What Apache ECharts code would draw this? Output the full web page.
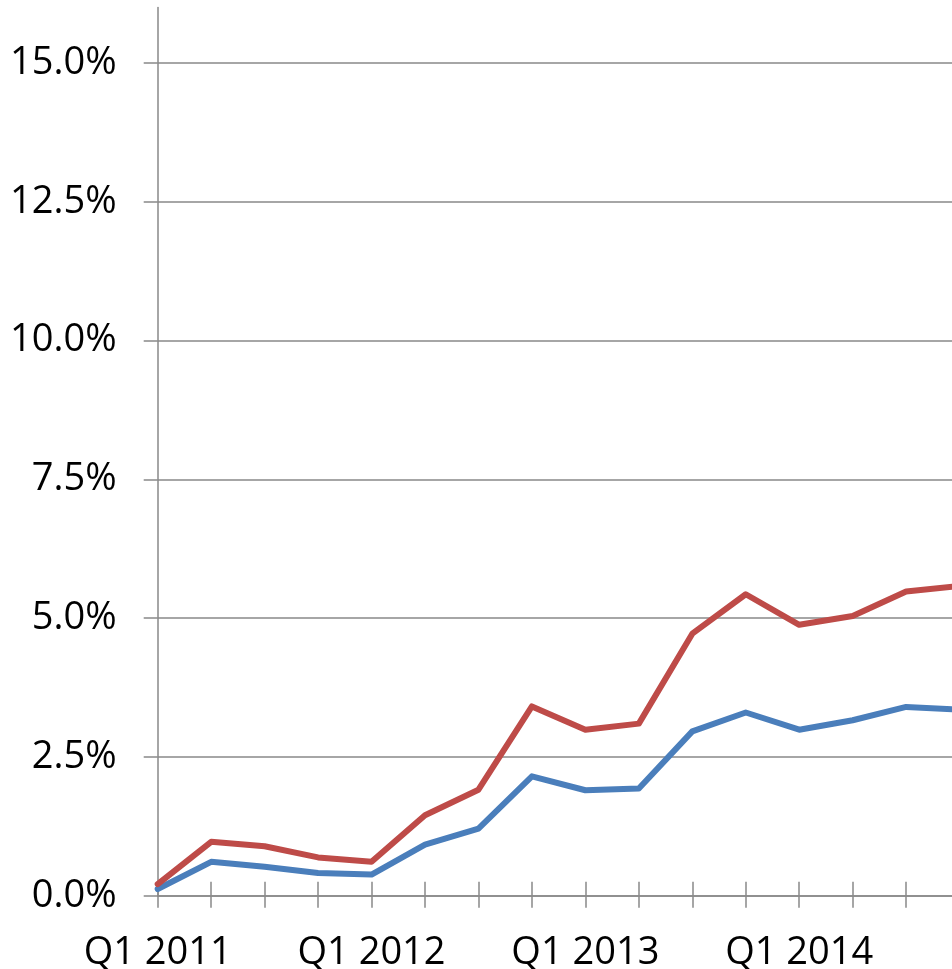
<!DOCTYPE html>
<html>
<head>
<meta charset="utf-8">
<script src="https://cdn.jsdelivr.net/npm/echarts@6/dist/echarts.min.js"></script>
<style>
  html, body { margin: 0; padding: 0; background: #ffffff; }
  #chart { width: 952px; height: 969px; }
</style>
</head>
<body>
<div id="chart"></div>
<script>
// Quarterly categories
const quarters = [
  'Q1 2011', 'Q2 2011', 'Q3 2011', 'Q4 2011',
  'Q1 2012', 'Q2 2012', 'Q3 2012', 'Q4 2012',
  'Q1 2013', 'Q2 2013', 'Q3 2013', 'Q4 2013',
  'Q1 2014', 'Q2 2014', 'Q3 2014', 'Q4 2014'
];

// Series values, in percent
const blueValues = [0.12, 0.61, 0.52, 0.41, 0.38, 0.92, 1.21, 2.15, 1.90, 1.93, 2.96, 3.30, 2.99, 3.16, 3.40, 3.35];
const redValues  = [0.21, 0.97, 0.89, 0.69, 0.61, 1.45, 1.91, 3.41, 2.99, 3.10, 4.72, 5.43, 4.88, 5.04, 5.48, 5.58];

// Value axis settings
const yMin = 0;
const yMax = 16;
const yStep = 2.5;

const axisGray = '#898989';
const fontFamily = '"Open Sans", "Liberation Sans", sans-serif';

// Plot area
const plotLeft = 157.7;
const plotRight = -7.6;
const plotTop = 7.5;
const plotBottom = 73.3;
const baselineY = 969 - plotBottom;

// Category ticks cross the baseline: 14px above it, 12px below it
const tickAbove = 14;
const tickBelow = 12;

const chart = echarts.init(document.getElementById('chart'), null, { renderer: 'canvas' });

chart.setOption({
  animation: false,
  backgroundColor: '#ffffff',
  grid: [
    { left: plotLeft, right: plotRight, top: plotTop, bottom: plotBottom,
      containLabel: false, outerBoundsMode: 'none' },
    // thin strip just above the baseline, carrying the upper half of the ticks
    { left: plotLeft, right: plotRight, top: baselineY - tickAbove, height: tickAbove,
      containLabel: false, outerBoundsMode: 'none' }
  ],
  xAxis: [
    {
      gridIndex: 0,
      type: 'category',
      data: quarters,
      boundaryGap: false,
      position: 'bottom',
      z: 0,
      axisLine: { show: true, lineStyle: { color: axisGray, width: 1.5 } },
      axisTick: {
        show: true, inside: false, length: tickBelow, interval: 0,
        lineStyle: { color: axisGray, width: 1.5 }
      },
      splitLine: { show: false },
      axisLabel: {
        show: true, interval: 3, margin: 38,
        color: '#000000', fontFamily: fontFamily, fontSize: 38, lineHeight: 38
      }
    },
    {
      gridIndex: 1,
      type: 'category',
      data: quarters,
      boundaryGap: false,
      position: 'bottom',
      z: 0,
      axisLine: { show: false, onZero: false },
      axisTick: {
        show: true, inside: true, length: tickAbove, interval: 0,
        lineStyle: { color: axisGray, width: 1.5 }
      },
      splitLine: { show: false },
      axisLabel: { show: false }
    }
  ],
  yAxis: [
    {
      gridIndex: 0,
      type: 'value',
      min: yMin,
      max: yMax,
      interval: yStep,
      z: 0,
      axisLine: { show: true, lineStyle: { color: axisGray, width: 1.5 } },
      axisTick: { show: true, length: 14, lineStyle: { color: axisGray, width: 1.5 } },
      splitLine: { show: true, showMaxLine: false, lineStyle: { color: axisGray, width: 1.5 } },
      axisLabel: {
        show: true, showMaxLabel: false, margin: 41,
        color: '#000000', fontFamily: fontFamily, fontSize: 38,
        formatter: function (v) { return v.toFixed(1) + '%'; }
      }
    },
    {
      gridIndex: 1,
      type: 'value',
      min: 0,
      max: 1,
      show: false
    }
  ],
  series: [
    {
      type: 'line',
      data: blueValues,
      xAxisIndex: 0,
      yAxisIndex: 0,
      symbol: 'none',
      lineStyle: { color: '#4A7EBB', width: 6, join: 'round', cap: 'round' },
      z: 3
    },
    {
      type: 'line',
      data: redValues,
      xAxisIndex: 0,
      yAxisIndex: 0,
      symbol: 'none',
      lineStyle: { color: '#BE4B48', width: 6, join: 'round', cap: 'round' },
      z: 4
    }
  ]
});
</script>
</body>
</html>
